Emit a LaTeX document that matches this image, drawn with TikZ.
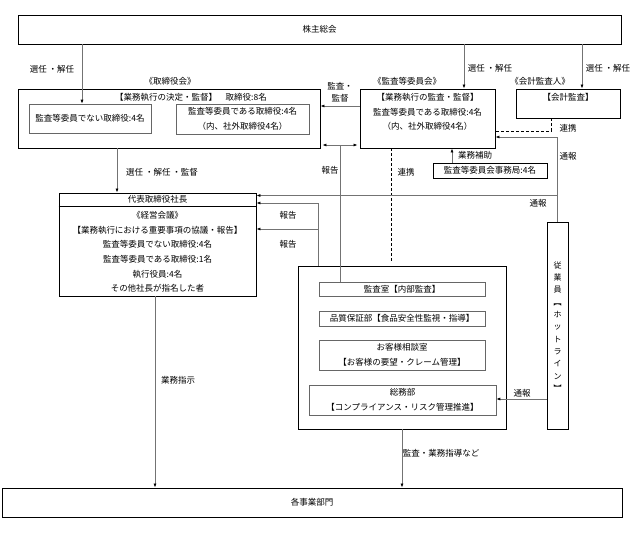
\documentclass[tikz,border=0pt]{standalone}
\usepackage{fontspec}
\setmainfont{Noto Sans CJK JP}
\usetikzlibrary{arrows.meta}

\begin{document}
\begin{tikzpicture}
    [x=1pt,y=-1pt,>={Latex[length=4pt,width=3pt,color=black]},
     every node/.style={font=\fontsize{8.5}{14.6}\selectfont,inner sep=0pt,align=center},
     box/.style={draw,line width=0.9pt},
     inbox/.style={draw=black!60,line width=0.6pt},
     conn/.style={draw=black!55,line width=0.7pt},
     link/.style={draw,line width=0.9pt,dash pattern=on 3pt off 2pt}]
    \useasboundingbox (0,0) rectangle (638,533);

    % boxes
    \node[box,minimum width=603,minimum height=29] (soukai) at (319.5,29.5) {株主総会};

    \node[box,minimum width=302,minimum height=59] (torishimari) at (169,118.5) {};
    \node (torititle) at (170,81) {《取締役会》};
    \node (torihead) at (191,97) {【業務執行の決定・監督】\quad 取締役:8名};
    \node[inbox,minimum width=122,minimum height=29] (nai) at (90,118.5) {監査等委員でない取締役:4名};
    \node[inbox,minimum width=133,minimum height=30] (aru) at (242.5,119) {監査等委員である取締役:4名\\（内、社外取締役4名）};

    \node[box,minimum width=135,minimum height=59] (kansa) at (427.5,118.5) {};
    \node (kansatitle) at (407,81) {《監査等委員会》};
    \node (kansatext) at (427.5,112) {【業務執行の監査・監督】\\監査等委員である取締役:4名\\（内、社外取締役4名）};

    \node[box,minimum width=104,minimum height=29] (kaikei) at (568,103.5) {};
    \node (kaikeititle) at (540,81) {《会計監査人》};
    \node (kaikeitext) at (568,97) {【会計監査】};

    \node[box,minimum width=114,minimum height=15] (jimu) at (490,170.5) {監査等委員会事務局:4名};

    \node[box,minimum width=197,minimum height=103] (shacho) at (157.5,244.5) {};
    \node (shachotitle) at (157.5,199.5) {代表取締役社長};
    \node (shachotext) at (157.5,252) {《経営会議》\\【業務執行における重要事項の協議・報告】\\監査等委員でない取締役:4名\\監査等委員である取締役:1名\\執行役員:4名\\その他社長が指名した者};
    \draw[line width=0.6pt] ([yshift=-14pt]shacho.north west) -- ([yshift=-14pt]shacho.north east);

    \node[box,minimum width=208,minimum height=163] (bumon) at (402,347.5) {};
    \node[inbox,minimum width=166,minimum height=14] (shitsu) at (402,289) {監査室【内部監査】};
    \node[inbox,minimum width=166,minimum height=15] (hinshitsu) at (402,318.5) {品質保証部【食品安全性監視・指導】};
    \node[inbox,minimum width=166,minimum height=30] (soudan) at (402,355) {お客様相談室\\【お客様の要望・クレーム管理】};
    \node[inbox,minimum width=187,minimum height=30] (soumu) at (402.5,400) {総務部\\【コンプライアンス・リスク管理推進】};

    \node[box,minimum width=21,minimum height=207] (jugyoin) at (557.5,325.5) {};
    \node[font=\fontsize{8}{12.3}\selectfont] (jugyointext) at (557.5,326.5) {従\\業\\員\\︻\\ホ\\ッ\\ト\\ラ\\イ\\ン\\︼};

    \node[box,minimum width=620,minimum height=29] (jigyo) at (312,502.5) {各事業部門};

    % labels
    \node (l1) at (52,69) {選任 ・解任};
    \node (l2) at (490,68) {選任 ・解任};
    \node (l3) at (608,68) {選任 ・解任};
    \node[font=\fontsize{8.5}{12}\selectfont] (l4) at (340,92) {監査・\\監督};
    \node (l5) at (330,170) {報告};
    \node (l6) at (406,172) {連携};
    \node (l7) at (568,128) {連携};
    \node (l8) at (475,155) {業務補助};
    \node (l9) at (568,156) {通報};
    \node (l10) at (538,203) {通報};
    \node (l11) at (162,172) {選任 ・解任 ・監督};
    \node (l12) at (288,215) {報告};
    \node (l13) at (288,244) {報告};
    \node (l14) at (178,380) {業務指示};
    \node (l15) at (441,453) {監査・業務指導など};
    \node (l16) at (522,393) {通報};

    % connectors
    \draw[conn,->] (82,0 |- soukai.south) -- (82,0 |- nai.north);
    \draw[conn,->] (464,0 |- soukai.south) -- (464,0 |- kansa.north);
    \draw[conn,->] (582,0 |- soukai.south) -- (582,0 |- kaikei.north);
    \draw[conn,->] (kansa.west |- 0,106) -- (torishimari.east |- 0,106);
    \draw[conn,<->,shorten <=2pt,shorten >=2pt] (torishimari.east |- 0,145) -- (kansa.west |- 0,145);
    \coordinate (hokoku) at (340,145);
    \draw[conn] (hokoku) -- (hokoku |- shitsu.north);
    \draw[conn,->] (117,0 |- torishimari.south) -- (117,0 |- shacho.north);
    \draw[link,shorten >=4pt] (391,0 |- kansa.south) -- (391,0 |- bumon.north);
    \draw[link] (551,0 |- kaikei.south) |- (kansa.east |- 0,131);
    \draw[conn,->] (452,0 |- jimu.north) -- (452,0 |- kansa.south);
    \draw[conn,->] (jugyoin.north) |- (kansa.east |- 0,137);
    \draw[conn,->] (jugyoin.north |- 0,195.5) -- (shacho.east |- 0,195.5);
    \draw[conn,->] (318,0 |- bumon.north) |- (shacho.east |- 0,203);
    \draw[conn,->] (318,229) -- (shacho.east |- 0,229);
    \draw[conn,->] (jugyoin.west |- 0,399) -- (soumu.east |- 0,399);
    \draw[conn,->] (155,0 |- shacho.south) -- (155,0 |- jigyo.north);
    \draw[conn,->] (bumon.south) -- (bumon.south |- jigyo.north);
\end{tikzpicture}
\end{document}
